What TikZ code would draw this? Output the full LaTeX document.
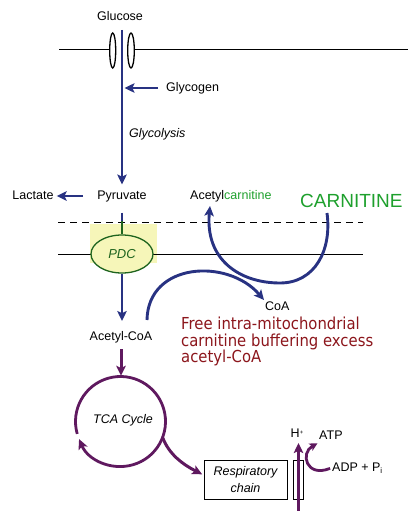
\documentclass[tikz,border=0pt]{standalone}
\usepackage{fontspec}
\setmainfont{Liberation Sans}
\newfontfamily\verd[FakeStretch=0.9]{DejaVu Sans}
\usetikzlibrary{arrows.meta,shapes.geometric}
\definecolor{navy}{RGB}{40,50,130}
\definecolor{plum}{RGB}{95,25,95}
\definecolor{darkred}{RGB}{140,22,28}
\definecolor{cgreen}{RGB}{30,160,45}
\definecolor{pdcgreen}{RGB}{30,100,30}
\definecolor{pdcyellow}{RGB}{246,246,185}
\begin{document}
\begin{tikzpicture}[x=1pt,y=1pt,
  lbl/.style={font=\fontsize{12.5}{14}\selectfont, inner sep=1pt, text height=9pt, text depth=2.6pt},
  ilbl/.style={lbl, font=\fontsize{12.5}{14}\selectfont\itshape},
  tipS/.style={-{Stealth[length=10pt,width=9.5pt,inset=2.2pt]}},
  bluearr/.style={draw=navy, line width=2.9pt, tipS},
  purarr/.style={draw=plum, line width=3pt, tipS},
  mem/.style={line width=1.3pt},
]
\useasboundingbox (0,0) rectangle (408,-511);

% outer membrane with glucose transporter
\draw[mem] (59,-49.3) -- (109.7,-49.3);
\draw[mem] (134.5,-49.3) -- (408,-49.3);
\draw[mem] (112.7,-50.5) ellipse [x radius=3, y radius=17.5];
\draw[mem] (131,-50.5) ellipse [x radius=3.3, y radius=17.5];

% labels
\node[lbl] (glc) at (120,-17) {Glucose};
\node[lbl, anchor=west] (glyc) at (165,-88) {Glycogen};
\node[ilbl, anchor=west] (glys) at (128,-134) {Glycolysis};
\node[lbl] (pyr) at (122,-196) {Pyruvate};
\node[lbl] (lac) at (33,-196) {Lactate};
\node[lbl, anchor=west] (acar) at (189,-196) {Acetyl\textcolor{cgreen}{carnitine}};
\node[font=\fontsize{19}{22}\selectfont, text=cgreen, anchor=west, inner sep=0] (car) at (300,-201) {CARNITINE};

\coordinate (gtop) at (122,-30);
\coordinate (gjoin) at (124.5,-88);
\draw[bluearr, line width=2.6pt] (gtop) -- (pyr.north) [shorten >=4.5pt];
\draw[bluearr] (glyc.west) -- (gjoin) [shorten <=7pt];
\draw[bluearr] (pyr.west) -- (lac.east) [shorten <=13pt, shorten >=2pt];

% mitochondrial membranes
\fill[pdcyellow] (90,-224) rectangle (157,-263);
\draw[line width=1.5pt, dash pattern=on 7pt off 5pt] (58,-222.5) -- (363,-222.5);
\draw[mem] (58,-254.5) -- (363,-254.5);
\draw[line width=1.8pt] (233,-254.5) -- (303,-254.5);

\node[ellipse, draw=pdcgreen, fill=pdcyellow, line width=1.3pt, minimum width=62pt, minimum height=38pt,
      inner sep=0, font=\fontsize{13}{14}\selectfont\itshape, text=pdcgreen] (pdc) at (122,-254) {PDC};
\draw[pdcgreen, line width=2.4pt] (pyr.south) -- (pdc.north) [shorten <=10pt];
\draw[navy, line width=2.4pt] (122,-212.5) -- (122,-221);

\node[lbl] (acoa) at (121,-337) {Acetyl-CoA};
\draw[bluearr] (pdc.south) -- (pdc.south |- acoa.north) [shorten >=9pt];

\node[lbl, anchor=west] (coa) at (264,-307) {CoA};
\coordinate (buf) at (147,-320);
\draw[bluearr] (buf) .. controls (148,-262) and (228,-258) .. (coa.north west);

\coordinate (cstart) at (327,-213);
\coordinate (cend) at (210,-206);
\draw[bluearr] (cstart) .. controls (332,-250) and (315,-283) .. (280,-283)
      .. controls (240,-283) and (205,-260) .. (cend);

\node[font=\verd\fontsize{16.5}{16.8}\selectfont, text=darkred, anchor=north west, align=left, inner sep=0] (free)
  at (181,-316.5) {Free intra-mitochondrial\\carnitine buffering excess\\acetyl-CoA};

% TCA cycle
\node[circle, minimum size=90pt, inner sep=0] (tca) at (120.5,-421.5) {};
\node[ilbl] (tcat) at (123,-420) {TCA Cycle};
\draw[purarr] (acoa.south) -- (acoa.south |- tca.north) [shorten <=5pt, shorten >=0.5pt];
\draw[plum, line width=2.8pt, tipS] (tca.center) ++(196:45) arc[start angle=196, end angle=-157, radius=45];

\node[draw, line width=1pt, minimum width=83pt, minimum height=39pt, inner sep=0, align=center,
      font=\fontsize{12.5}{17.5}\selectfont\itshape] (resp) at (245.5,-479.5) {Respiratory\\chain};
\draw[purarr] (tca.-21) .. controls (169,-454) and (182,-464) .. ([yshift=4.5pt]resp.west) [shorten >=1.5pt];

\node[draw, line width=1pt, minimum width=10pt, minimum height=39pt, inner sep=0] (pump) at (298,-479.5) {};
\node[lbl] (hp) at (297,-434) {H\raisebox{3pt}{\fontsize{6}{6}\selectfont +}};
\coordinate (hbot) at (298.5,-511);
\draw[purarr] (hbot) -- (hbot |- hp.south) [shorten >=2pt];

\node[lbl, anchor=west] (atp) at (318,-436) {ATP};
\node[lbl, anchor=west] (adp) at (331,-468) {ADP + P\raisebox{-2pt}{\fontsize{8}{8}\selectfont i}};
\draw[plum, line width=2.8pt, -{Stealth[length=8pt,width=8pt,inset=1.8pt]}]
  (adp.west) .. controls (306,-478) and (300,-453) .. (atp.south west) [shorten <=1pt, shorten >=0.5pt];
\end{tikzpicture}
\end{document}
